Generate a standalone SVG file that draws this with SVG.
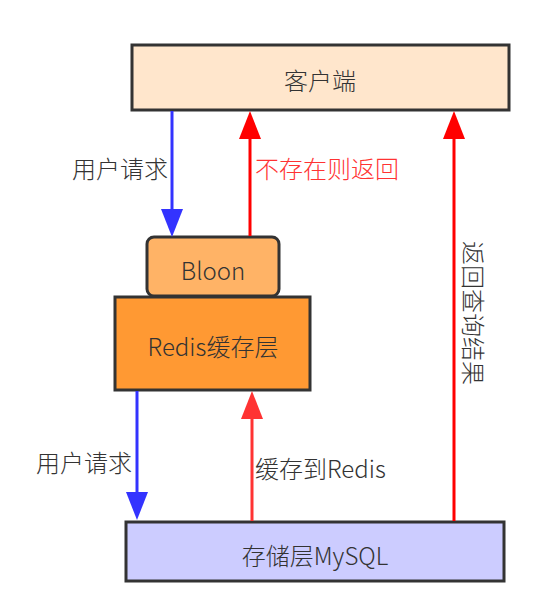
<svg xmlns="http://www.w3.org/2000/svg" width="557" height="594" viewBox="0 0 557 594">
<style>
.box{stroke:#333333;stroke-width:3}
.t{font-family:"Noto Sans CJK SC","Noto Sans",sans-serif;font-size:24px;font-weight:300;fill:#333333;dominant-baseline:central}
.blue{stroke:#3333FF;stroke-width:3;fill:none}
.red{stroke:#FF0000;stroke-width:3;fill:none}
.red2{stroke:#FF3333;stroke-width:3;fill:none}
</style>
<defs>
<marker id="hb" viewBox="0 0 28 22" refX="0" refY="11" markerWidth="28" markerHeight="22" orient="auto" markerUnits="userSpaceOnUse"><path d="M0,0 L28,11 L0,22 z" fill="#3333FF"/></marker>
<marker id="hr" viewBox="0 0 28 22" refX="0" refY="11" markerWidth="28" markerHeight="22" orient="auto" markerUnits="userSpaceOnUse"><path d="M0,0 L28,11 L0,22 z" fill="#FF0000"/></marker>
<marker id="hr2" viewBox="0 0 28 22" refX="0" refY="11" markerWidth="28" markerHeight="22" orient="auto" markerUnits="userSpaceOnUse"><path d="M0,0 L28,11 L0,22 z" fill="#FF3333"/></marker>
</defs>
<rect width="557" height="594" fill="#FFFFFF"/>
<g id="client"><rect class="box" x="132" y="45" width="377" height="65" fill="#FFE6CC"/><text class="t" x="320" y="79" text-anchor="middle">客户端</text></g>
<g id="bloon"><rect class="box" x="147" y="237" width="132" height="59" rx="7" fill="#FFB366"/><text class="t" x="213" y="269" text-anchor="middle">Bloon</text></g>
<g id="redis"><rect class="box" x="115" y="297" width="195" height="93" fill="#FF9933"/><text class="t" x="213" y="345" text-anchor="middle">Redis缓存层</text></g>
<g id="mysql"><rect class="box" x="126" y="522" width="378" height="59" fill="#CCCCFF"/><text class="t" x="315" y="554" text-anchor="middle">存储层MySQL</text></g>
<g id="connectors">
<line class="blue" x1="172" y1="111" x2="172" y2="209" marker-end="url(#hb)"/>
<line class="red" x1="250" y1="236" x2="250" y2="139" marker-end="url(#hr)"/>
<line class="blue" x1="137" y1="391" x2="137" y2="492" marker-end="url(#hb)"/>
<line class="red2" x1="252" y1="521" x2="252" y2="419" marker-end="url(#hr2)"/>
<line class="red" x1="454" y1="521" x2="454" y2="139" marker-end="url(#hr)"/>
<text class="t" x="120" y="167" text-anchor="middle">用户请求</text>
<text class="t" x="255" y="167" style="fill:#FF3333">不存在则返回</text>
<text class="t" x="84" y="461" text-anchor="middle">用户请求</text>
<text class="t" x="255" y="467">缓存到Redis</text>
<text class="t" x="0" y="0" text-anchor="middle" transform="translate(474,313) rotate(90)">返回查询结果</text>
</g>
</svg>
